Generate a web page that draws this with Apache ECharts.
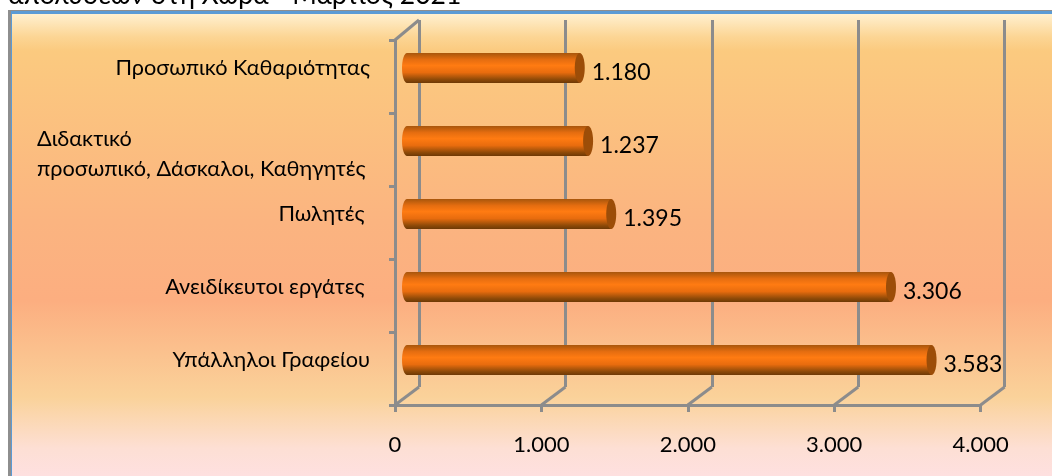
<!DOCTYPE html>
<html>
<head>
<meta charset="utf-8">
<title>chart</title>
<style>
html,body{margin:0;padding:0;background:#fff;}
#main{width:1052px;height:476px;}
</style>
<script src="https://cdn.jsdelivr.net/npm/echarts@6/dist/echarts.min.js"></script>
</head>
<body>
<div id="main"></div>
<script>
var titleText = 'απολύσεων στη Χώρα - Μάρτιος 2021';
// bottom to top, as on the axis
var categories = ['Υπάλληλοι Γραφείου', 'Ανειδίκευτοι εργάτες ', 'Πωλητές ', 'Διδακτικό\nπροσωπικό, Δάσκαλοι, Καθηγητές', 'Προσωπικό Καθαριότητας'];
var values = [3583, 3306, 1395, 1237, 1180];
var ticks = [0, 1000, 2000, 3000, 4000];

var fontName = 'Lato, "Open Sans", sans-serif';
var lineColor = '#8c8c8c';

function fmt(v){
	return String(v).replace(/\B(?=(\d{3})+$)/g, '.');
}

var myChart = echarts.init(document.getElementById('main'));

function barGradient(){
	return new echarts.graphic.LinearGradient(0, 0, 0, 1, [
		{offset: 0, color: '#a8560c'},
		{offset: 0.22, color: '#e56d10'},
		{offset: 0.42, color: '#ff7b12'},
		{offset: 0.65, color: '#e86c0e'},
		{offset: 0.88, color: '#8f4a08'},
		{offset: 1, color: '#6e3905'}
	]);
}

// three grids with the same scale: front floor, back wall, bars in between
var option = {
	animation: false,
	textStyle: {fontFamily: fontName},
	title: {
		text: titleText,
		left: 8,
		top: -18,
		padding: 0,
		textStyle: {fontFamily: fontName, fontSize: 26.5, fontWeight: 'normal', color: '#000'}
	},
	graphic: [{
		type: 'rect',
		z: -10,
		shape: {x: 8, y: 10, width: 1044, height: 466},
		style: {fill: '#8e8e8e'}
	},{
		type: 'rect',
		z: -9,
		shape: {x: 11, y: 11, width: 1041, height: 465},
		style: {fill: '#5b9bd5'}
	},{
		type: 'rect',
		z: -8,
		shape: {x: 12, y: 14, width: 1040, height: 462},
		style: {
			fill: new echarts.graphic.LinearGradient(0, 0, 0, 1, [
				{offset: 0, color: '#fff0cf'},
				{offset: 0.05, color: '#fcd594'},
				{offset: 0.08, color: '#fbca7f'},
				{offset: 0.45, color: '#fbb480'},
				{offset: 0.62, color: '#fcae80'},
				{offset: 0.83, color: '#fad29a'},
				{offset: 0.94, color: '#fddfd4'},
				{offset: 1, color: '#fee0e0'}
			])
		}
	}],
	grid: [
		{left: 395, top: 40, width: 585.6, height: 365},
		{left: 419, top: 20, width: 585.6, height: 367},
		{left: 407, top: 31.5, width: 585.6, height: 365}
	],
	xAxis: [{
		gridIndex: 0, type: 'value', min: 0, max: 4000, interval: 1000,
		axisLine: {show: true, lineStyle: {color: lineColor, width: 3}},
		axisTick: {show: true, length: 7, lineStyle: {color: lineColor, width: 3}},
		splitLine: {show: false},
		axisLabel: {
			margin: 29, color: '#000', fontFamily: fontName, fontSize: 22,
			formatter: fmt
		}
	},{
		gridIndex: 1, type: 'value', min: 0, max: 4000, interval: 1000,
		axisLine: {show: false}, axisTick: {show: false}, axisLabel: {show: false},
		splitLine: {show: true, lineStyle: {color: lineColor, width: 3}}
	},{
		gridIndex: 2, type: 'value', min: 0, max: 4000, show: false
	}],
	yAxis: [{
		gridIndex: 0, type: 'category', data: categories,
		axisLine: {show: true, onZero: false, lineStyle: {color: lineColor, width: 3}},
		axisTick: {show: true, length: 6, lineStyle: {color: lineColor, width: 3}},
		axisLabel: {show: false}
	},{
		gridIndex: 1, type: 'category', data: categories, show: false
	},{
		gridIndex: 2, type: 'category', data: categories,
		axisLine: {show: false},
		axisTick: {show: false},
		axisLabel: {
			margin: 37, color: '#000', fontFamily: fontName, fontSize: 21.7, lineHeight: 30,
			formatter: function(v){
				if(v.indexOf('\n') > -1){
					return '{gap| }\n' + v.split('\n').map(function(s){ return '{wrap|' + s + '}'; }).join('\n');
				}
				return v;
			},
			rich: {
				gap: {lineHeight: 26, fontSize: 10},
				wrap: {width: 333, align: 'left', fontFamily: fontName, fontSize: 21.7, lineHeight: 30, color: '#000'}
			}
		}
	}],
	series: [{
		// box edges joining front floor and back wall
		type: 'custom',
		xAxisIndex: 0, yAxisIndex: 0,
		z: 1,
		silent: true,
		data: ticks.map(function(t){ return [t, 0]; }),
		renderItem: function(params, api){
			var p = api.coord([api.value(0), 0]);
			var floorY = params.coordSys.y + params.coordSys.height;
			var kids = [{
				type: 'line',
				shape: {x1: p[0], y1: floorY, x2: p[0] + 24, y2: floorY - 18},
				style: {stroke: lineColor, lineWidth: 3}
			}];
			if(api.value(0) === 0){
				kids.push({
					type: 'line',
					shape: {x1: p[0], y1: params.coordSys.y, x2: p[0] + 24, y2: params.coordSys.y - 20},
					style: {stroke: lineColor, lineWidth: 3}
				});
			}
			return {type: 'group', children: kids};
		}
	},{
		// rounded start of the cylinder
		type: 'custom',
		xAxisIndex: 2, yAxisIndex: 2,
		z: 3,
		silent: true,
		data: values.map(function(v, i){ return [0, i]; }),
		renderItem: function(params, api){
			var p = api.coord([0, api.value(1)]);
			return {
				type: 'ellipse',
				shape: {cx: p[0], cy: p[1], rx: 5, ry: 15},
				style: {fill: barGradient()}
			};
		}
	},{
		name: 'values',
		type: 'bar',
		xAxisIndex: 2, yAxisIndex: 2,
		z: 4,
		data: values,
		barWidth: 30,
		itemStyle: {color: barGradient()},
		label: {
			show: true,
			position: 'right',
			distance: 12,
			offset: [0, 5],
			color: '#000',
			fontFamily: fontName,
			fontSize: 23,
			formatter: function(p){ return fmt(p.value); }
		}
	},{
		// end cap of the cylinder
		type: 'custom',
		xAxisIndex: 2, yAxisIndex: 2,
		z: 5,
		silent: true,
		data: values.map(function(v, i){ return [v, i]; }),
		renderItem: function(params, api){
			var p = api.coord([api.value(0), api.value(1)]);
			return {
				type: 'ellipse',
				shape: {cx: p[0], cy: p[1], rx: 5, ry: 15},
				style: {fill: '#9c4d08'}
			};
		}
	}]
};

myChart.setOption(option);
</script>
</body>
</html>
